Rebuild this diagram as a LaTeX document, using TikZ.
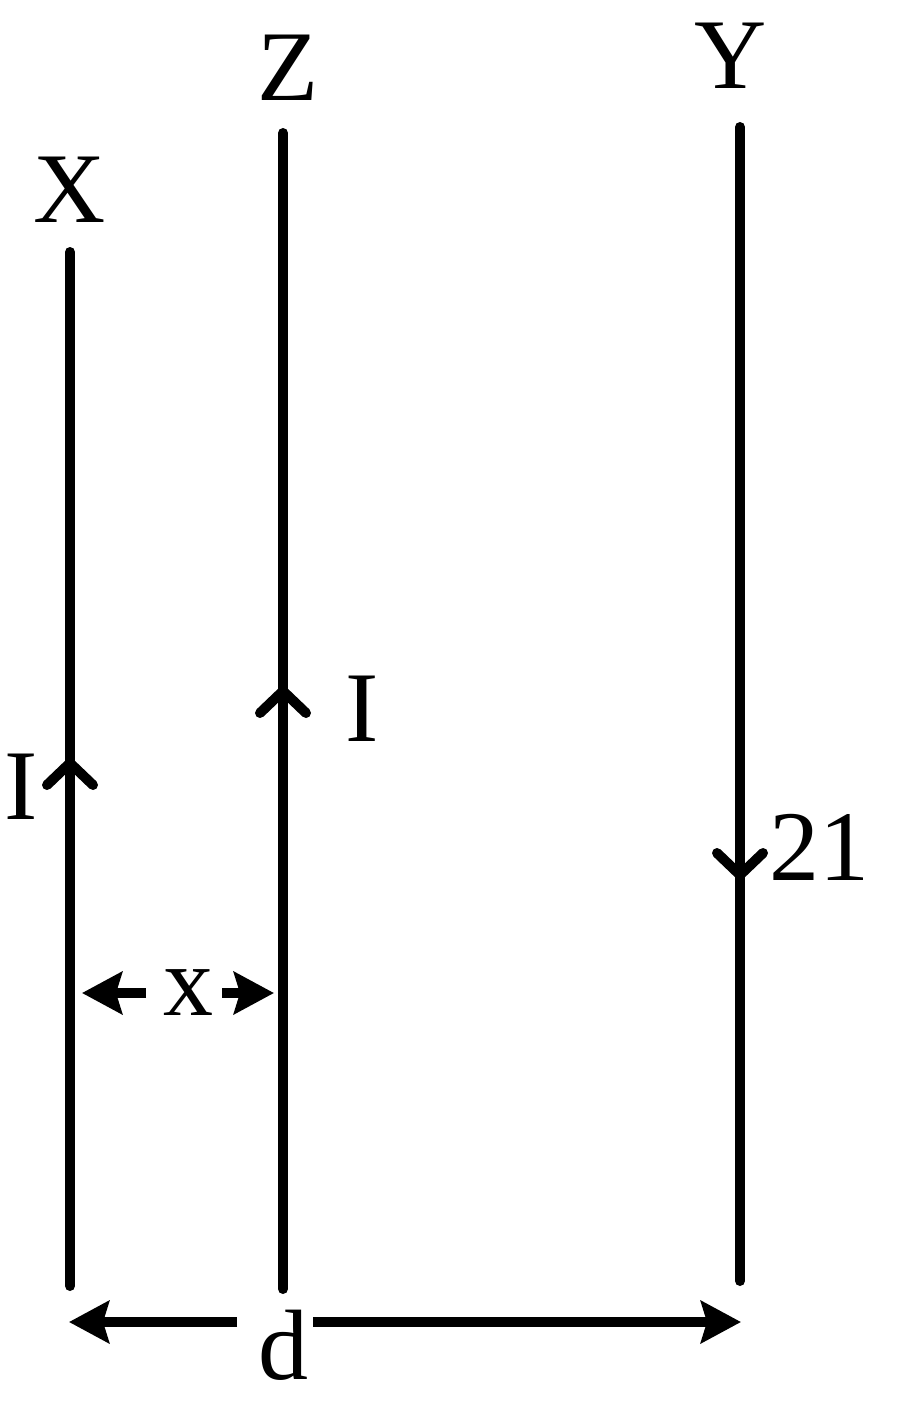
\documentclass[tikz,border=0pt]{standalone}
\usepackage{fontspec}
\setmainfont{Liberation Serif}
\usetikzlibrary{arrows.meta,calc}
\begin{document}
\begin{tikzpicture}[x=1pt,y=-1pt,
  wire/.style={line width=10pt,line cap=round},
  chev/.style={line width=10pt,line cap=round,line join=round},
  dim/.style={line width=10pt,-{Stealth[length=40pt,width=42pt,inset=6pt]}},
  lab/.style={inner sep=0pt,font=\fontsize{100}{100}\selectfont}]
\useasboundingbox (0,0) rectangle (900,1402);
% wire ends
\coordinate (Xt) at (70,252);
\coordinate (Xb) at (70,1286);
\coordinate (Zt) at (283,133);
\coordinate (Zb) at (283,1289);
\coordinate (Yt) at (740,127);
\coordinate (Yb) at (740,1281);
\draw[wire] (Xt) -- (Xb);
\draw[wire] (Zt) -- (Zb);
\draw[wire] (Yt) -- (Yb);
% current chevrons
\coordinate (Xa) at (70,763);
\draw[chev] ($(Xa)+(-23,22)$) -- (Xa) -- ($(Xa)+(23,22)$);
\coordinate (Za) at (283,691);
\draw[chev] ($(Za)+(-23,22)$) -- (Za) -- ($(Za)+(23,22)$);
\coordinate (Ya) at (740,875);
\draw[chev] ($(Ya)+(-23,-22)$) -- (Ya) -- ($(Ya)+(23,-22)$);
% labels
\node[lab] (LX) at (70,190) {X};
\node[lab] (LZ) at (288,68) {Z};
\node[lab] (LY) at (731,56) {Y};
\node[lab] (LI1) at (21,787) {I};
\node[lab] (LI2) at (362,709) {I};
\node[lab] (L21) at (819,847) {21};
\node[lab] (Lx) at (188,993) {x};
\node[lab] (Ld) at (283,1345) {d};
% dimension arrows
\coordinate (xlt) at (146,993);
\coordinate (xlh) at (82,993);
\coordinate (xrt) at (222,993);
\coordinate (xrh) at (274,993);
\draw[dim] (xlt) -- (xlh);
\draw[dim] (xrt) -- (xrh);
\coordinate (dlt) at (237,1322);
\coordinate (dlh) at (69,1322);
\coordinate (drt) at (313,1322);
\coordinate (drh) at (741,1322);
\draw[dim] (dlt) -- (dlh);
\draw[dim] (drt) -- (drh);
\end{tikzpicture}
\end{document}
